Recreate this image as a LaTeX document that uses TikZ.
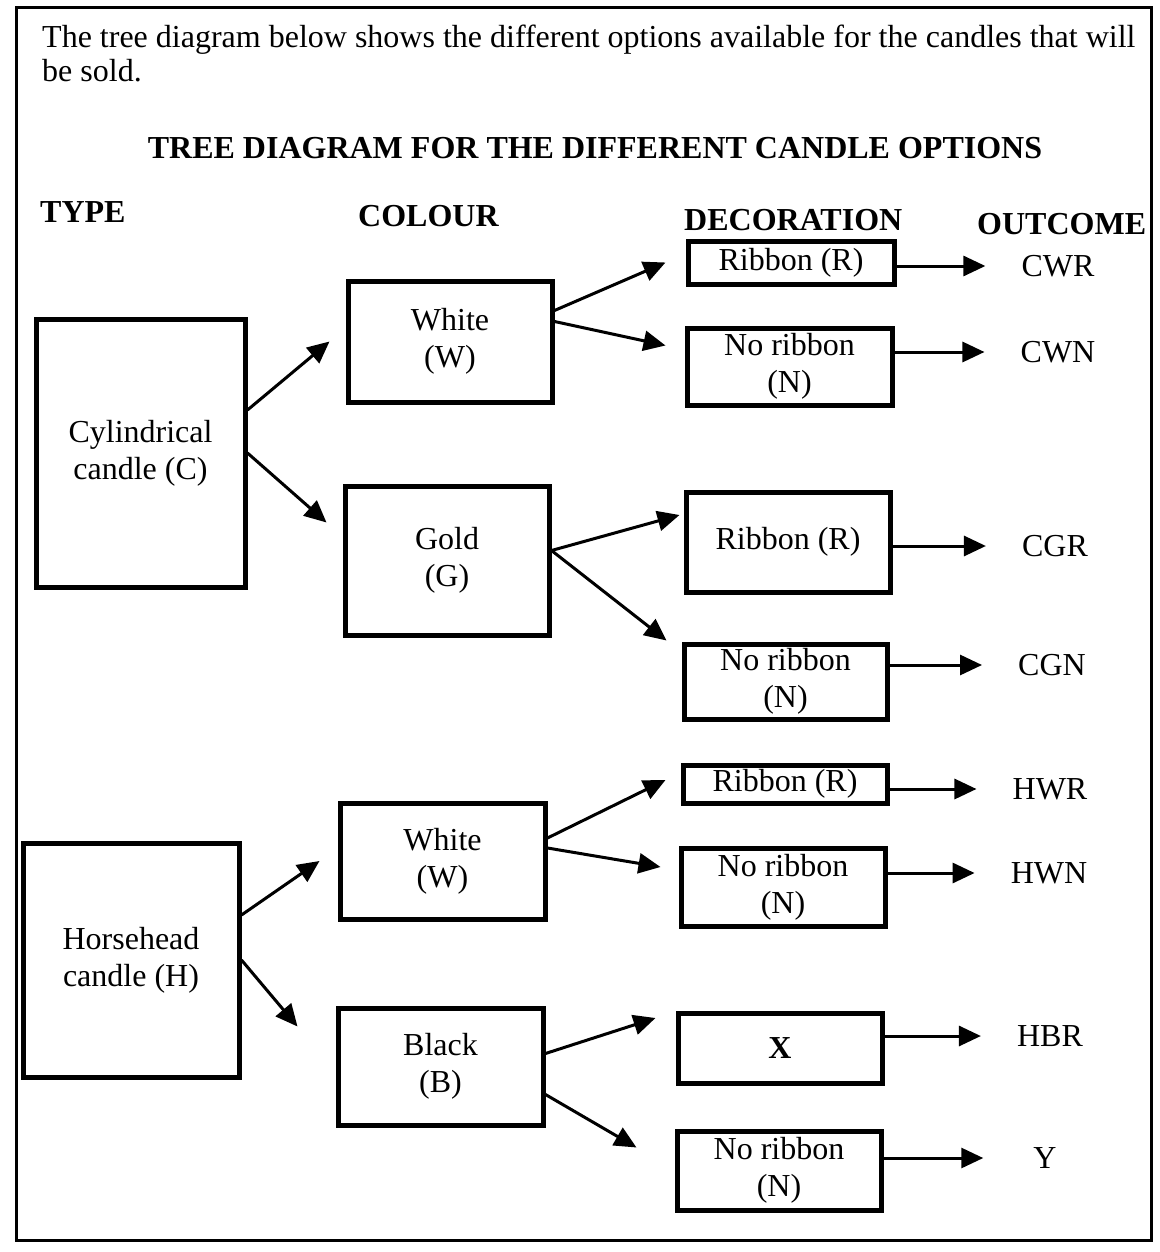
\documentclass[tikz,border=0pt]{standalone}
\usepackage{fontspec}
\setmainfont{Liberation Serif}
\usetikzlibrary{arrows.meta}
\begin{document}
\begin{tikzpicture}[x=1pt,y=-1pt,
    box/.style={draw, line width=5pt, align=center, inner sep=1pt, font=\fontsize{32}{37}\selectfont},
    arr/.style={-{Triangle[length=22pt,width=20pt]}, line width=3pt},
    head/.style={anchor=west, inner sep=0pt, font=\fontsize{32}{36}\selectfont\bfseries},
    outc/.style={inner sep=0pt, font=\fontsize{32}{37}\selectfont}]
    \useasboundingbox (0,0) rectangle (1159,1252);
    \draw[line width=3pt] (16,8) rectangle (1151,1240);

    % Heading texts
    \node[anchor=north west, align=left, inner sep=0pt, font=\fontsize{32}{34}\selectfont] (intro) at (42,25)
        {The tree diagram below shows the different options available for the candles that will\\be sold.};
    \node[inner sep=0pt, font=\fontsize{32}{36}\selectfont\bfseries] (title) at (595,148)
        {TREE DIAGRAM FOR THE DIFFERENT CANDLE OPTIONS};
    \node[head] (htype) at (40,212) {TYPE};
    \node[head] (hcol) at (358,216) {COLOUR};
    \node[head] (hdec) at (684,220) {DECORATION};
    \node[head] (hout) at (977,224) {OUTCOME};

    % Nodes for cylindrical candle
    \node[box, minimum width=209pt, minimum height=268pt] (C) at (140.5,453) {Cylindrical\\candle (C)};
    \node[box, minimum width=204pt, minimum height=121pt] (W1) at (450,341.5) {White\\(W)};
    \node[box, minimum width=204pt, minimum height=149pt] (G) at (447,560.5) {Gold\\(G)};
    \node[box, minimum width=206pt, minimum height=43pt] (R1) at (791,262.5) {Ribbon (R)};
    \node[box, minimum width=205pt, minimum height=77pt] (N1) at (789.5,366.5) {No ribbon\\(N)};
    \node[box, minimum width=204pt, minimum height=100pt] (R2) at (788,542) {Ribbon (R)};
    \node[box, minimum width=203pt, minimum height=75pt] (N2) at (785.5,681.5) {No ribbon\\(N)};

    % Nodes for horsehead candle
    \node[box, minimum width=216pt, minimum height=234pt] (H) at (131,960) {Horsehead\\candle (H)};
    \node[box, minimum width=205pt, minimum height=116pt] (W2) at (442.5,861) {White\\(W)};
    \node[box, minimum width=205pt, minimum height=117pt] (B) at (440.5,1066.5) {Black\\(B)};
    \node[box, minimum width=204pt, minimum height=38pt] (R3) at (785,784) {Ribbon (R)};
    \node[box, minimum width=204pt, minimum height=78pt] (N3) at (783,887) {No ribbon\\(N)};
    \node[box, minimum width=204pt, minimum height=70pt] (X) at (780,1048) {\textbf{X}};
    \node[box, minimum width=204pt, minimum height=79pt] (N4) at (779,1170.5) {No ribbon\\(N)};

    % Outcomes
    \node[outc] (CWR) at (1058,266) {CWR};
    \node[outc] (CWN) at (1058,352) {CWN};
    \node[outc] (CGR) at (1055,546) {CGR};
    \node[outc] (CGN) at (1052,665) {CGN};
    \node[outc] (HWR) at (1050,789) {HWR};
    \node[outc] (HWN) at (1049,873) {HWN};
    \node[outc] (HBR) at (1050,1036) {HBR};
    \node[outc] (Y) at (1045,1158) {Y};

    % Branches
    \draw[arr] ([yshift=43pt]C.east) -- ([xshift=-16pt]W1.west);
    \draw[arr] (C.east) -- ([xshift=-16pt,yshift=38pt]G.west);
    \draw[arr] ([yshift=31pt]W1.east) -- ([xshift=-20pt]R1.west);
    \draw[arr] ([yshift=20pt]W1.east) -- ([xshift=-19pt,yshift=21pt]N1.west);
    \draw[arr] ([yshift=10pt]G.east) -- ([xshift=-4pt,yshift=27pt]R2.west);
    \draw[arr] ([yshift=10pt]G.east) -- ([xshift=-15pt,yshift=41pt]N2.west);
    \draw[arr] ([yshift=45pt]H.east) -- ([xshift=-18pt]W2.west);
    \draw[arr] (H.east) -- ([xshift=-38pt,yshift=40pt]B.west);
    \draw[arr] ([yshift=23pt]W2.east) -- ([xshift=-15pt,yshift=4pt]R3.west);
    \draw[arr] ([yshift=13pt]W2.east) -- ([xshift=-18pt,yshift=20pt]N3.west);
    \draw[arr] ([yshift=13pt]B.east) -- ([xshift=-20pt,yshift=30pt]X.west);
    \draw[arr] ([yshift=-28pt]B.east) -- ([xshift=-38pt,yshift=23pt]N4.west);

    % Outcome arrows
    \draw[arr] (R1.east |- CWR) -- ([xshift=-36pt]CWR.west);
    \draw[arr] (N1.east |- CWN) -- ([xshift=-36pt]CWN.west);
    \draw[arr] (R2.east |- CGR) -- ([xshift=-36pt]CGR.west);
    \draw[arr] (N2.east |- CGN) -- ([xshift=-36pt]CGN.west);
    \draw[arr] (R3.east |- HWR) -- ([xshift=-36pt]HWR.west);
    \draw[arr] (N3.east |- HWN) -- ([xshift=-36pt]HWN.west);
    \draw[arr] (X.east |- HBR) -- ([xshift=-36pt]HBR.west);
    \draw[arr] (N4.east |- Y) -- ([xshift=-50pt]Y.west);
\end{tikzpicture}
\end{document}
